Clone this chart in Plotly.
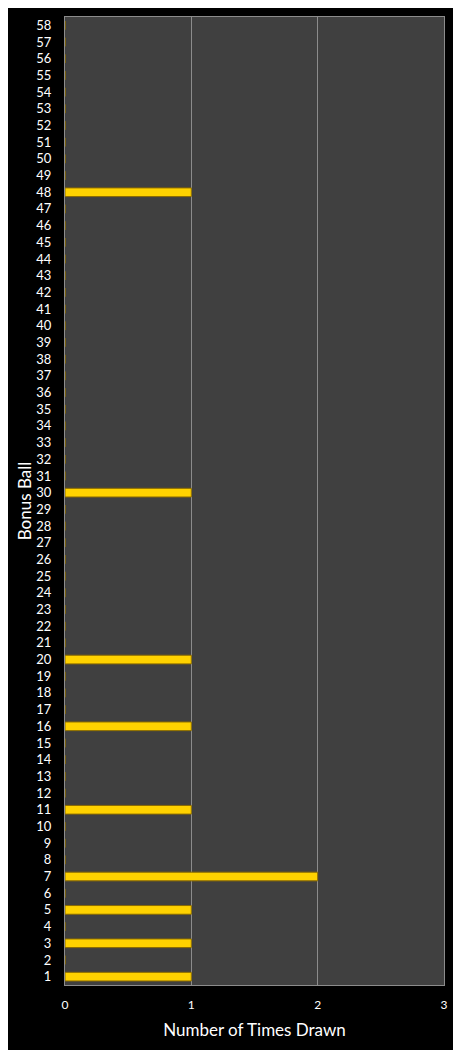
import plotly.graph_objects as go

balls = list(range(1, 59))
drawn = {1: 1, 3: 1, 5: 1, 7: 2, 11: 1, 16: 1, 20: 1, 30: 1, 48: 1}
counts = [drawn.get(b, 0) for b in balls]
x_ticks = [0, 1, 2, 3]

fig = go.Figure()
fig.add_trace(go.Bar(
    y=balls, x=counts, orientation="h", width=0.52,
    marker=dict(color="#FFD200", line=dict(color="#8A6A00", width=1)),
))
fig.update_layout(
    width=453, height=1042,
    margin=dict(l=57, r=17, t=9, b=65),
    paper_bgcolor="#000000", plot_bgcolor="#404040",
    showlegend=False,
    font=dict(family="Lato", color="#FFFFFF", size=13),
)
fig.update_xaxes(
    range=[0, 3], tickvals=x_ticks, showgrid=True, gridcolor="#8C8C8C", gridwidth=1,
    zeroline=False, showline=True, linecolor="#8C8C8C", mirror=True,
    tickfont=dict(size=12, color="#FFFFFF"),
    title=dict(text="Number of Times Drawn", font=dict(size=17, color="#FFFFFF"), standoff=12),
    ticks="outside", ticklen=9, tickcolor="rgba(0,0,0,0)",
)
fig.update_yaxes(
    range=[0.5, 58.5], tickmode="array", tickvals=balls, ticktext=[str(b) for b in balls],
    showgrid=False, zeroline=False, showline=True, linecolor="#8C8C8C", mirror=True,
    tickfont=dict(size=13, color="#FFFFFF"),
    title=dict(text="Bonus Ball", font=dict(size=17, color="#FFFFFF"), standoff=0),
    ticks="outside", ticklen=10, tickcolor="rgba(0,0,0,0)",
)
fig.write_html("out.html")
